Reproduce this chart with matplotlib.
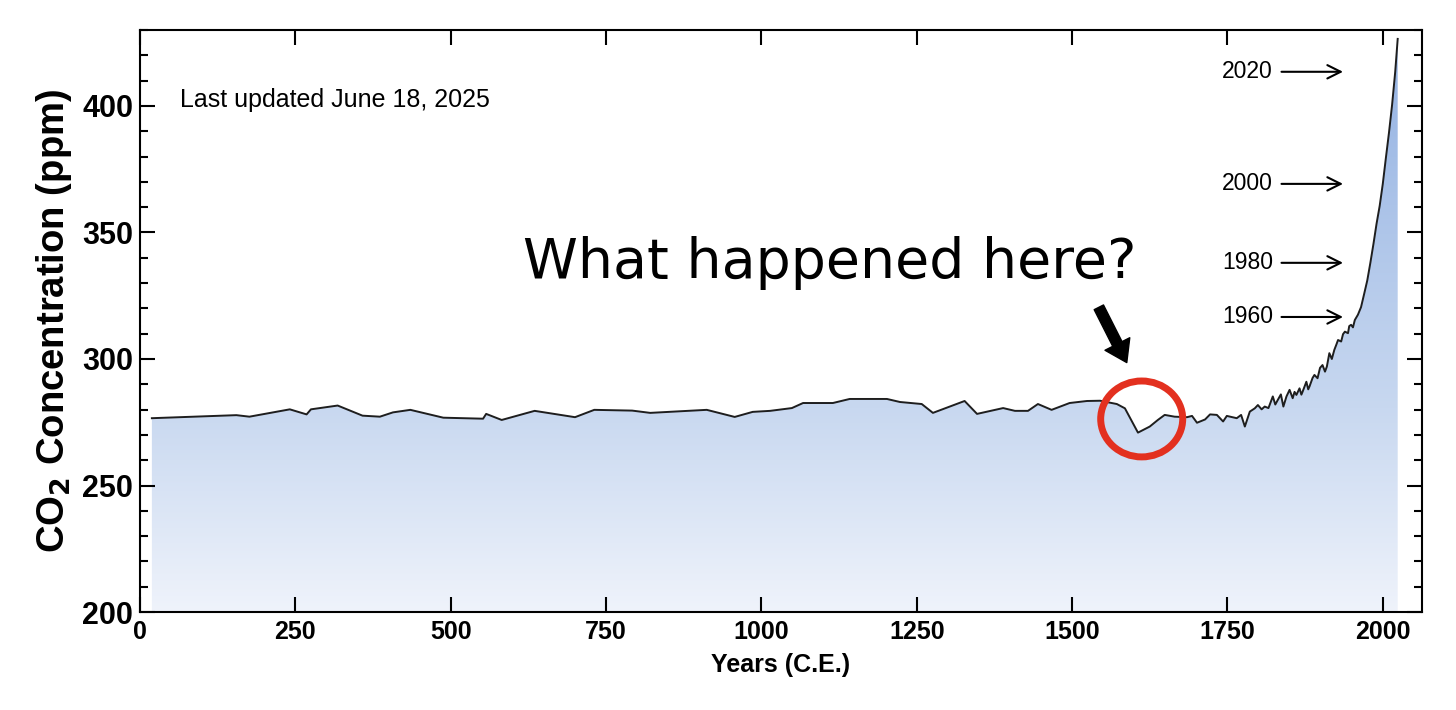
import numpy as np
import matplotlib
matplotlib.use('Agg')
from matplotlib import pyplot as plt
from matplotlib.colors import LinearSegmentedColormap
from matplotlib.patches import Ellipse, FancyArrowPatch
from matplotlib.ticker import MultipleLocator

# CO2 record
years = [19, 155, 176, 241, 268, 275, 318, 358, 386, 407, 435, 488, 552, 557,
         582, 635, 700, 731, 792, 821, 912, 957, 986, 1014, 1049, 1067, 1115,
         1142, 1202, 1223, 1258, 1276, 1327, 1347, 1389, 1408, 1429, 1445,
         1467, 1496, 1524, 1545, 1572, 1585, 1606, 1625, 1638, 1649, 1665,
         1685, 1693, 1701, 1714, 1722, 1733, 1743, 1749, 1765, 1772, 1778,
         1786, 1794, 1799, 1805, 1810, 1816, 1823, 1827, 1831, 1836, 1840,
         1845, 1850, 1855, 1858, 1861, 1866, 1869, 1871, 1877, 1880, 1882,
         1887, 1890, 1895, 1899, 1903, 1907, 1910, 1914, 1918, 1922, 1925,
         1928, 1933, 1936, 1939, 1944, 1946, 1949, 1952, 1955, 1960, 1965,
         1970, 1975, 1980, 1985, 1990, 1995, 2000, 2005, 2010, 2015, 2020,
         2024]
ppm = [276.6, 277.8, 277.2, 280.1, 278.1, 280.1, 281.6, 277.6, 277.2, 278.9,
       279.9, 276.8, 276.4, 278.3, 275.9, 279.5, 277.0, 279.9, 279.6, 278.7,
       279.9, 277.1, 279.1, 279.5, 280.6, 282.6, 282.6, 284.2, 284.2, 283.0,
       282.2, 278.7, 283.4, 278.3, 280.6, 279.5, 279.5, 282.2, 279.9, 282.6,
       283.4, 283.5, 282.2, 280.5, 270.9, 273.3, 275.9, 277.9, 277.2, 277.0,
       277.5, 274.8, 276.1, 278.1, 277.9, 275.3, 277.5, 276.6, 277.9, 273.3,
       279.2, 280.5, 281.8, 280.1, 281.2, 280.6, 285.2, 282.0, 283.8, 286.0,
       281.2, 285.2, 287.8, 284.5, 287.0, 285.8, 288.4, 285.9, 287.1, 291.0,
       288.0, 289.1, 292.5, 293.7, 292.4, 296.5, 297.6, 295.0, 297.0, 302.3,
       300.0, 303.6, 305.5, 307.5, 306.9, 309.8, 310.8, 310.2, 313.0, 313.5,
       312.5, 315.4, 317.5, 320.5, 325.7, 331.0, 338.0, 345.5, 353.5, 360.5,
       369.2, 379.5, 389.5, 400.5, 413.5, 426.5]

marker_years = ['2020', '2000', '1980', '1960']
marker_ppm = [413.5, 369.2, 338.0, 316.6]

x_ticks = [0, 250, 500, 750, 1000, 1250, 1500, 1750, 2000]
y_ticks = [200, 250, 300, 350, 400]

plt.rcParams['font.family'] = ['Liberation Sans', 'DejaVu Sans']

fig = plt.figure(figsize=(14.56, 7.10), dpi=100)
ax = fig.add_axes([0.0962, 0.138, 0.8804, 0.8197])
ax.set_xlim(0, 2063)
ax.set_ylim(200, 430)

# gradient fill under the curve
cmap = LinearSegmentedColormap.from_list(
    'co2', [(0, '#eff3fb'), (0.35, '#c8d8f0'), (1, '#92b1e2')])
grad = np.linspace(0, 1, 256).reshape(-1, 1)
im = ax.imshow(grad, extent=[0, 2063, 200, 430], origin='lower',
               aspect='auto', cmap=cmap, zorder=1)
poly = ax.fill_between(years, ppm, 200, facecolor='none', edgecolor='none')
im.set_clip_path(poly.get_paths()[0], transform=ax.transData)

ax.plot(years, ppm, color='#1e1e1e', lw=1.4, zorder=3)

# axes styling
ax.set_xticks(x_ticks)
ax.set_yticks(y_ticks)
ax.yaxis.set_minor_locator(MultipleLocator(10))
ax.tick_params(which='both', direction='in', top=True, right=True, width=1.5)
ax.tick_params(which='major', length=11)
ax.tick_params(which='minor', length=6)
ax.tick_params(axis='x', labelsize=18, pad=6)
ax.tick_params(axis='y', labelsize=22, pad=5)
for lab in ax.get_xticklabels() + ax.get_yticklabels():
    lab.set_fontweight('bold')
for sp in ax.spines.values():
    sp.set_linewidth(1.5)

ax.set_xlabel('Years (C.E.)', fontsize=18, fontweight='bold', labelpad=6)
ax.set_ylabel('CO$_\\mathbf{2}$ Concentration (ppm)', fontsize=27.5,
              fontweight='bold', labelpad=6)

ax.text(64, 402.4, 'Last updated June 18, 2025', fontsize=18,
        ha='left', va='center')

# year markers
for lab, val in zip(marker_years, marker_ppm):
    ax.text(1823, val, lab, fontsize=16.5, ha='right', va='center')
    ax.annotate('', xy=(1936, val), xytext=(1837, val),
                arrowprops=dict(arrowstyle='->', lw=1.5, color='black',
                                shrinkA=0, shrinkB=0, mutation_scale=24))

# callout
ax.text(1110, 338, 'What happened here?', fontsize=40, ha='center',
        va='center', family='DejaVu Sans', zorder=5)
arrow = FancyArrowPatch((1541, 321.4), (1590, 297.6),
                        arrowstyle='simple,head_length=0.6,head_width=0.8,tail_width=0.3',
                        mutation_scale=25, color='black', zorder=5)
ax.add_patch(arrow)
ax.add_patch(Ellipse((1612, 276.3), width=132, height=30, fill=False,
                     edgecolor='#e3301f', lw=5, zorder=6))

fig.savefig('out.png', dpi=100)
